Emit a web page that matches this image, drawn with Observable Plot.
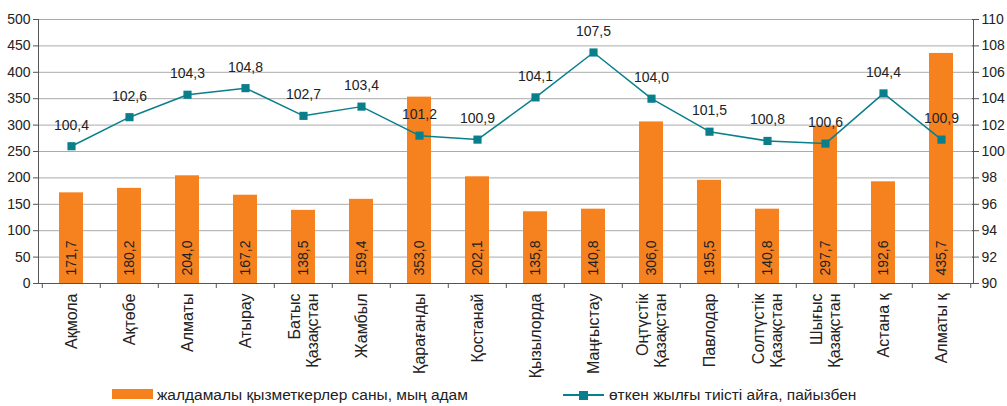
<!DOCTYPE html>
<html><head><meta charset="utf-8">
<script src="https://cdn.jsdelivr.net/npm/d3@7"></script>
<script src="https://cdn.jsdelivr.net/npm/@observablehq/plot@0.6"></script>
<style>
body{margin:0;background:#fff;font-family:"Liberation Sans",Arial,sans-serif;}
#legend{position:relative;height:22px;width:1007px;font-size:15.5px;color:#222;}
#legend .it{position:absolute;top:0;height:22px;line-height:22px;white-space:nowrap;}
</style></head><body>
<div id="chart"></div>
<div id="legend">
  <span class="it" style="left:112px;"><span style="display:inline-block;width:41px;height:10px;background:#f5821f;vertical-align:middle;margin-top:-3px;"></span></span>
  <span class="it" style="left:157px;" id="lg1"></span>
  <span class="it" style="left:563px;"><svg width="41" height="22" style="vertical-align:top"><line x1="0" x2="41" y1="11" y2="11" stroke="#0a7f8c" stroke-width="2"/><rect x="16" y="7" width="9" height="9" fill="#0a7f8c"/></svg></span>
  <span class="it" style="left:609px;" id="lg2"></span>
</div>
<script>
const regions = ["Ақмола","Ақтөбе","Алматы","Атырау","Батыс\nҚазақстан","Жамбыл","Қарағанды","Қостанай","Қызылорда","Маңғыстау","Оңтүстік\nҚазақстан","Павлодар","Солтүстік\nҚазақстан","Шығыс\nҚазақстан","Астана қ","Алматы қ"];
const employees = [171.7,180.2,204.0,167.2,138.5,159.4,353.0,202.1,135.8,140.8,306.0,195.5,140.8,297.7,192.6,435.7];
const growth = [100.4,102.6,104.3,104.8,102.7,103.4,101.2,100.9,104.1,107.5,104.0,101.5,100.8,100.6,104.4,100.9];
const leftTicks = [0,50,100,150,200,250,300,350,400,450,500];
const rightTicks = [90,92,94,96,98,100,102,104,106,108,110];
const seriesNames = ["жалдамалы қызметкерлер саны, мың адам","өткен жылғы тиісті айға, пайызбен"];

document.getElementById("lg1").textContent = seriesNames[0];
document.getElementById("lg2").textContent = seriesNames[1];

const toLeft = v => (v - 90) * 25;
const fmt = v => v.toFixed(1).replace(".", ",");
const data = regions.map((r,i)=>({region:r, emp:employees[i], gr:growth[i]}));
const W = 1007, H = 384, ML = 38, MR = 34, MT = 19, MB = 101;
const step = (W - ML - MR) / regions.length;
const teal = "#0a7f8c", orange = "#f5821f", ink = "#222";

const plot = Plot.plot({
  width: W, height: H, marginLeft: ML, marginRight: MR, marginTop: MT, marginBottom: MB,
  style: {fontFamily: "Liberation Sans, Arial, sans-serif", fontSize: "14px", color: ink, background: "#fff"},
  x: {domain: regions, paddingInner: 0.59, paddingOuter: 0.295, label: null},
  y: {domain: [0, 500], label: null},
  marks: [
    Plot.gridY(leftTicks, {stroke: "#aaa", strokeOpacity: 1}),
    Plot.barY(data, {x: "region", y: "emp", fill: orange}),
    Plot.text(data, {x: "region", y: 0, text: d => fmt(d.emp), rotate: -90, textAnchor: "start", dy: -8, fill: ink, fontSize: 14}),
    Plot.ruleY([0], {stroke: "#555"}),
    Plot.frame({anchor: "left", stroke: "#555"}),
    Plot.frame({anchor: "right", stroke: "#555"}),
    Plot.axisY({anchor: "left", ticks: leftTicks, tickSize: 5, tickPadding: 3, label: null, stroke: "#555"}),
    Plot.axisY({anchor: "right", ticks: leftTicks, tickSize: 5, tickPadding: 3, label: null, tickFormat: d => String(rightTicks[leftTicks.indexOf(d)]), stroke: "#555"}),
    Plot.axisY({anchor: "right", ticks: leftTicks, tickSize: 2, dx: -2, tickFormat: () => "", label: null, stroke: "#555"}),
    Plot.axisX({ticks: regions, tickSize: 5, dx: -step / 2, tickFormat: () => "", label: null, stroke: "#555"}),
    Plot.axisX({ticks: [regions[regions.length - 1]], tickSize: 5, dx: step / 2, tickFormat: () => "", label: null, stroke: "#555"}),
    Plot.axisX({tickRotate: -90, tickSize: 0, tickPadding: 10, label: null, fontSize: 16, lineHeight: 1.08}),
    Plot.line(data, {x: "region", y: d => toLeft(d.gr), stroke: teal, strokeWidth: 1.5}),
    Plot.dot(data, {x: "region", y: d => toLeft(d.gr), symbol: "square", r: 4.6, fill: teal, stroke: null}),
    Plot.text(data, {x: "region", y: d => toLeft(d.gr), text: d => fmt(d.gr), dy: -21, fill: ink, fontSize: 14})
  ]
});
document.getElementById("chart").appendChild(plot);
</script>
</body></html>
